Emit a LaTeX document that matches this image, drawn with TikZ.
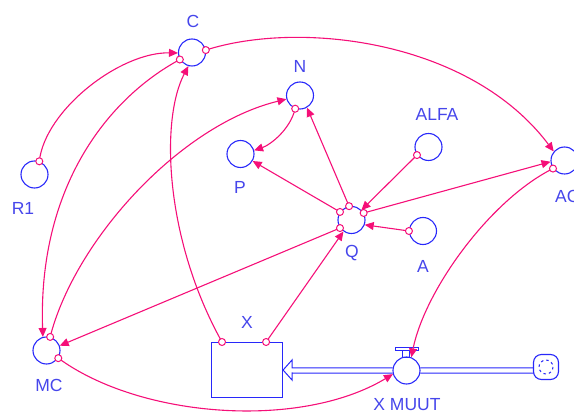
\documentclass[tikz,border=0pt]{standalone}
\usepackage{fontspec}
\setmainfont{Liberation Sans}
\usetikzlibrary{arrows.meta}
\definecolor{linkpink}{RGB}{245,15,120}
\definecolor{outlineblue}{RGB}{40,40,250}
\definecolor{tagblue}{RGB}{70,70,235}
\begin{document}
\begin{tikzpicture}[x=1pt,y=-1pt,
  aux/.style={circle,draw=outlineblue,line width=1.1pt,minimum size=27pt,inner sep=0pt},
  tagtext/.style={text=tagblue,font=\fontsize{17.5}{18}\selectfont,inner sep=0pt},
  conn/.style={draw=linkpink,line width=1.1pt,-{Triangle[length=9pt,width=8pt]}},
  ring/.style={circle,draw=linkpink,fill=white,line width=1pt,minimum size=7pt,inner sep=0pt},
  pipe/.style={draw=outlineblue,line width=1pt}]
\useasboundingbox (0,0) rectangle (574,414);

% auxiliaries
\node[aux] (C)    at (192,52.5) {};
\node[aux] (R1)   at (34.5,174.5) {};
\node[aux] (N)    at (300,95.5) {};
\node[aux] (P)    at (240.5,154) {};
\node[aux] (ALFA) at (428.5,147) {};
\node[aux] (Q)    at (351.5,220) {};
\node[aux] (A)    at (423,231) {};
\node[aux] (AC)   at (564.5,160.5) {};
\node[aux] (MC)   at (46.5,350.5) {};

% stock, flow pipe, valve and source cloud
\node[draw=outlineblue,line width=1.1pt,minimum width=71pt,minimum height=55pt,
      inner sep=0pt,anchor=north west] (X) at (211,342) {};
\node[aux] (XM) at (406.5,370.5) {};
\draw[pipe] (XM.169) -- (292,368) -- (292,360) -- (X.east) -- (292,380) -- (292,373) -- (XM.191);
\draw[pipe] (395,347.5) rectangle (418,351);
\draw[pipe] (402.5,351) rectangle (409,357.5);
\draw[pipe] (XM.11) -- (535,368);
\draw[pipe] (XM.349) -- (535,373);
\node[draw=outlineblue,fill=white,line width=1.1pt,rounded corners=8pt,
      minimum size=25pt,inner sep=0pt] (cloud) at (546,367) {};
\draw[outlineblue,line width=1pt,dash pattern=on 2.5pt off 3pt] (cloud.center) circle[radius=7];

% labels
\node[tagtext] (tC)    at (193,21)  {C};
\node[tagtext] (tN)    at (300,66)  {N};
\node[tagtext] (tALFA) at (437,114) {ALFA};
\node[tagtext] (tP)    at (240,187) {P};
\node[tagtext] (tQ)    at (352,253) {Q};
\node[tagtext] (tA)    at (423,266) {A};
\node[tagtext,anchor=west] (tAC) at (555,196) {AC};
\node[tagtext] (tR1)   at (23,208)  {R1};
\node[tagtext] (tMC)   at (49,385)  {MC};
\node[tagtext] (tX)    at (247,322) {X};
\node[tagtext] (tXM)   at (407,405) {X MUUT};

% connectors
\draw[conn] (R1.70) .. controls (45,110) and (120,52) .. (C.182) node[ring,pos=0]{};
\draw[conn] (C.210) .. controls (105,100) and (38,190) .. (MC.105) node[ring,pos=0]{};
\draw[conn] (MC.75) .. controls (75,240) and (180,125) .. (N.195) node[ring,pos=0]{};
\draw[conn] ([xshift=11pt]X.north west) .. controls (165,240) and (160,120) .. (C.255) node[ring,pos=0]{};
\draw[conn] ([xshift=-17pt]X.north east) -- (Q.235) node[ring,pos=0]{};
\draw[conn] (C.10) .. controls (300,20) and (470,40) .. (AC.140) node[ring,pos=0]{};
\draw[conn] (Q.30) -- (AC.185) node[ring,pos=0]{};
\draw[conn] (AC.215) .. controls (490,200) and (425,290) .. (XM.70) node[ring,pos=0]{};
\draw[conn] (ALFA.215) -- (Q.45) node[ring,pos=0]{};
\draw[conn] (A.180) -- (Q.340) node[ring,pos=0]{};
\draw[conn] (Q.100) -- (N.300) node[ring,pos=0]{};
\draw[conn] (Q.145) -- (P.330) node[ring,pos=0]{};
\draw[conn] (N.250) .. controls (290,130) and (270,145) .. (P.15) node[ring,pos=0]{};
\draw[conn] (Q.215) -- (MC.20) node[ring,pos=0]{};
\draw[conn] (MC.327) .. controls (140,418) and (300,430) .. (XM.195) node[ring,pos=0]{};
\end{tikzpicture}
\end{document}
